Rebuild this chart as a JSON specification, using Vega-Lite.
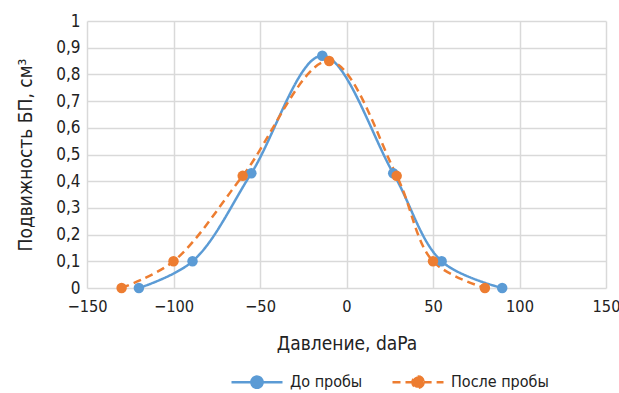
{
  "$schema": "https://vega.github.io/schema/vega-lite/v6.json",
  "width": 519,
  "height": 267,
  "autosize": "none",
  "padding": {"left": 87, "top": 21, "right": 13, "bottom": 105},
  "background": "white",
  "config": {
    "font": "DejaVu Sans Condensed",
    "view": {"stroke": null},
    "axis": {"labelFont": "DejaVu Sans Condensed", "titleFont": "DejaVu Sans Condensed", "labelFontSize": 17, "titleFontSize": 19, "labelColor": "#222", "titleColor": "#222", "titleFontWeight": "normal", "gridColor": "#D9D9D9", "gridWidth": 1.5, "domain": false, "ticks": false},
    "legend": {"labelFont": "DejaVu Sans Condensed", "labelFontSize": 16, "labelColor": "#222"}
  },
  "data": {"values": [
    {"series": "До пробы", "x": -120, "y": 0},
    {"series": "До пробы", "x": -89, "y": 0.1},
    {"series": "До пробы", "x": -55, "y": 0.43},
    {"series": "До пробы", "x": -14, "y": 0.87},
    {"series": "До пробы", "x": 27, "y": 0.43},
    {"series": "До пробы", "x": 55, "y": 0.1},
    {"series": "До пробы", "x": 90, "y": 0},
    {"series": "После пробы", "x": -130, "y": 0},
    {"series": "После пробы", "x": -100, "y": 0.1},
    {"series": "После пробы", "x": -60, "y": 0.42},
    {"series": "После пробы", "x": -10, "y": 0.85},
    {"series": "После пробы", "x": 29, "y": 0.42},
    {"series": "После пробы", "x": 50, "y": 0.1},
    {"series": "После пробы", "x": 80, "y": 0}
  ]},
  "encoding": {
    "x": {"field": "x", "type": "quantitative", "scale": {"domain": [-150, 150], "nice": false}, "axis": {"values": [-150, -100, -50, 0, 50, 100, 150], "labelFlush": false, "labelFontSize": 16.3, "title": "Давление, daPa", "labelPadding": 10, "titlePadding": 20}},
    "y": {"field": "y", "type": "quantitative", "scale": {"domain": [0, 1], "nice": false}, "axis": {"values": [0, 0.1, 0.2, 0.3, 0.4, 0.5, 0.6, 0.7, 0.8, 0.9, 1], "labelFlush": false, "labelExpr": "replace(format(datum.value, '.1~f'), '.', ',')", "title": "Подвижность БП, см³", "labelPadding": 7, "titlePadding": 20}},
    "color": {"field": "series", "type": "nominal", "scale": {"domain": ["До пробы", "После пробы"], "range": ["#5B9BD5", "#ED7D31"]},
      "legend": {"title": null, "orient": "none", "legendX": 143, "legendY": 334, "direction": "horizontal", "symbolType": "M-1,0H-0.22M0.22,0H1M0.22,0A0.22,0.22 0 1,1 -0.22,0A0.22,0.22 0 1,1 0.22,0", "symbolSize": 2601, "symbolStrokeWidth": 2.5, "columnPadding": 24, "labelOffset": 6}},
    "strokeDash": {"field": "series", "type": "nominal", "scale": {"domain": ["До пробы", "После пробы"], "range": [[1, 0], [8, 5]]}, "legend": {"title": null, "orient": "none", "legendX": 143, "legendY": 334, "direction": "horizontal", "symbolType": "M-1,0H-0.22M0.22,0H1M0.22,0A0.22,0.22 0 1,1 -0.22,0A0.22,0.22 0 1,1 0.22,0", "symbolSize": 2601, "symbolStrokeWidth": 2.5, "columnPadding": 24, "labelOffset": 6}}
  },
  "layer": [
    {"mark": {"type": "line", "interpolate": "catmull-rom", "strokeWidth": 2.5}},
    {"mark": {"type": "point", "filled": true, "size": 110, "opacity": 1}, "encoding": {"strokeDash": {"value": [1, 0]}}}
  ]
}
